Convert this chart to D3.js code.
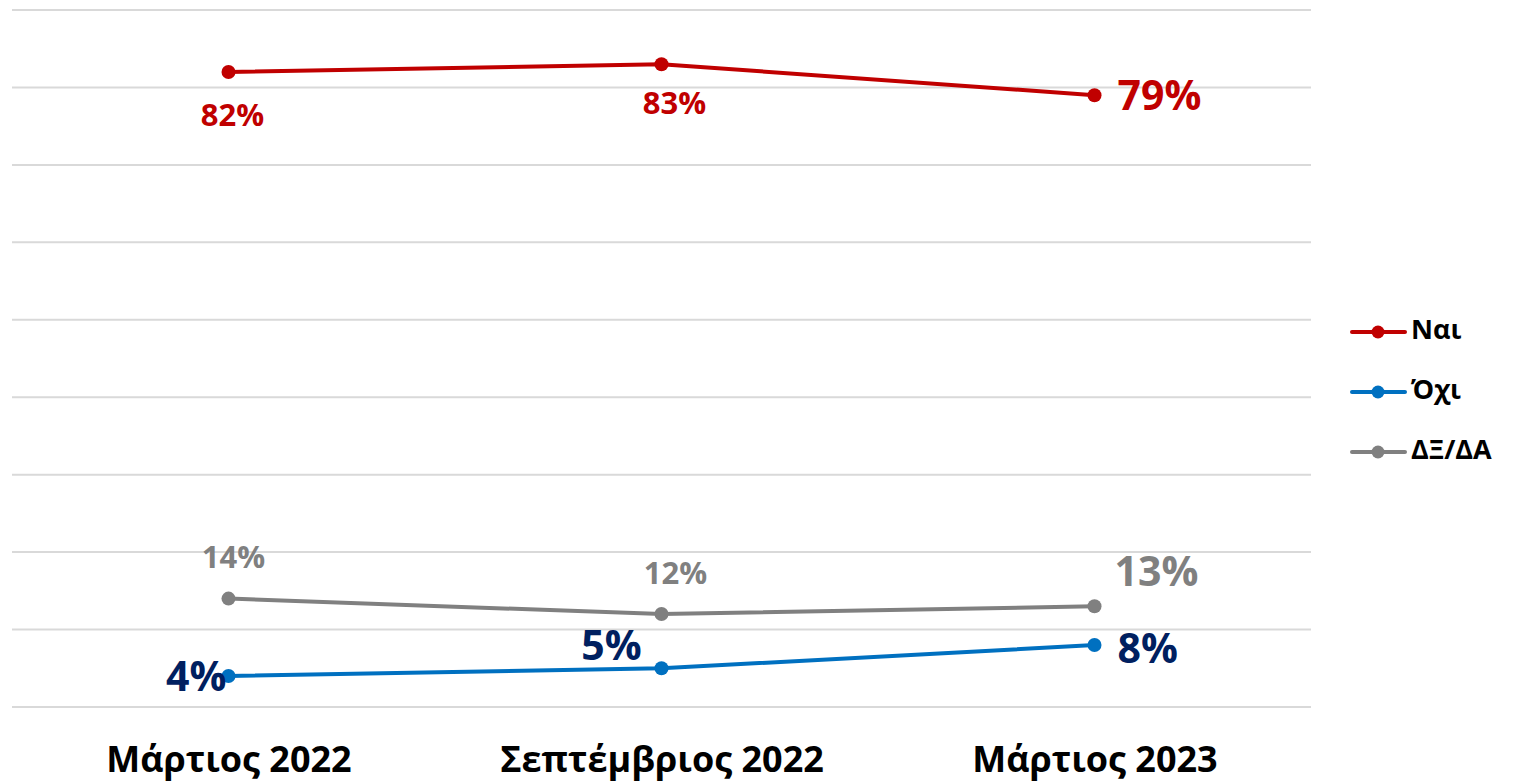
<!DOCTYPE html>
<html>
<head>
<meta charset="utf-8">
<script src="https://cdn.jsdelivr.net/npm/d3@7"></script>
<style>
  html, body { margin: 0; padding: 0; background: #fff; }
  svg { display: block; font-family: "Open Sans", "Noto Sans", sans-serif; }
</style>
</head>
<body>
<svg id="chart" width="1514" height="784"></svg>
<script>
// Survey waves
const categories = ["Μάρτιος 2022", "Σεπτέμβριος 2022", "Μάρτιος 2023"];
// Answer shares (%)
const naiValues = [82, 83, 79];
const oxiValues = [4, 5, 8];
const dkValues = [14, 12, 13];
// Series names
const seriesNames = ["Ναι", "Όχι", "ΔΞ/ΔΑ"];
// Value-axis ticks (gridlines)
const yTicks = [0, 10, 20, 30, 40, 50, 60, 70, 80, 90];

const series = [
  { name: seriesNames[0], values: naiValues, color: "#C00000" },
  { name: seriesNames[1], values: oxiValues, color: "#0070C0" },
  { name: seriesNames[2], values: dkValues, color: "#808080" }
];

// Label placement per series/point: dx, dy from the point, anchor, size, colour
const labelStyle = [
  [ { dx: 4, dy: 46, a: "middle", s: 31, c: "#C00000" },
    { dx: 13, dy: 41, a: "middle", s: 31, c: "#C00000" },
    { dx: 23, dy: 4, a: "start", s: 41, c: "#C00000" } ],
  [ { dx: -2, dy: 4, a: "end", s: 41, c: "#002060" },
    { dx: -50, dy: -19, a: "middle", s: 41, c: "#002060" },
    { dx: 23, dy: 7, a: "start", s: 41, c: "#002060" } ],
  [ { dx: 5, dy: -39, a: "middle", s: 31, c: "#808080" },
    { dx: 14, dy: -38, a: "middle", s: 31, c: "#808080" },
    { dx: 20, dy: -31, a: "start", s: 41, c: "#808080" } ]
];

const svg = d3.select("#chart");

const x = d3.scalePoint().domain(categories).range([12, 1311]).padding(0.5);
const y = d3.scaleLinear().domain([0, 90]).range([707, 10]);

// Horizontal gridlines
svg.append("g")
  .selectAll("line")
  .data(yTicks)
  .join("line")
  .attr("x1", 12).attr("x2", 1311)
  .attr("y1", d => y(d)).attr("y2", d => y(d))
  .attr("stroke", "#d9d9d9").attr("stroke-width", 2);

// Category axis labels
const xAxis = d3.axisBottom(x).tickSize(0).tickPadding(0);
const gx = svg.append("g").attr("transform", "translate(0,772)").call(xAxis);
gx.select(".domain").remove();
gx.selectAll("text")
  .attr("fill", "#000")
  .attr("font-size", 36)
  .attr("font-weight", 700)
  .attr("font-family", "'Open Sans', 'Noto Sans', sans-serif")
  .attr("y", 0)
  .attr("dy", 0);

const line = d3.line()
  .x((d, i) => x(categories[i]))
  .y(d => y(d));

// Lines and markers (grey and blue beneath red)
[2, 1, 0].forEach(si => {
  const s = series[si];
  const g = svg.append("g");
  g.append("path")
    .datum(s.values)
    .attr("d", line)
    .attr("fill", "none")
    .attr("stroke", s.color)
    .attr("stroke-width", 4)
    .attr("stroke-linejoin", "round");
  g.selectAll("circle")
    .data(s.values)
    .join("circle")
    .attr("cx", (d, i) => x(categories[i]))
    .attr("cy", d => y(d))
    .attr("r", 7)
    .attr("fill", s.color);
});

// Value labels
series.forEach((s, si) => {
  svg.append("g")
    .selectAll("text")
    .data(s.values)
    .join("text")
    .attr("x", (d, i) => x(categories[i]) + labelStyle[si][i].dx)
    .attr("y", (d, i) => y(d) + labelStyle[si][i].dy)
    .attr("text-anchor", (d, i) => labelStyle[si][i].a)
    .attr("font-size", (d, i) => labelStyle[si][i].s)
    .attr("font-weight", 700)
    .attr("fill", (d, i) => labelStyle[si][i].c)
    .attr("dominant-baseline", "middle")
    .text(d => d + "%");
});

// Legend
const legend = svg.append("g").attr("transform", "translate(1352,332)");
series.forEach((s, i) => {
  const row = legend.append("g").attr("transform", `translate(0,${i * 60})`);
  row.append("line")
    .attr("x1", 0).attr("x2", 53)
    .attr("stroke", s.color).attr("stroke-width", 4)
    .attr("stroke-linecap", "round");
  row.append("circle").attr("cx", 26).attr("r", 6.5).attr("fill", s.color);
  row.append("text")
    .attr("x", 59)
    .attr("dominant-baseline", "middle")
    .attr("font-size", 27)
    .attr("font-weight", 700)
    .attr("fill", "#000")
    .text(s.name);
});
</script>
</body>
</html>
